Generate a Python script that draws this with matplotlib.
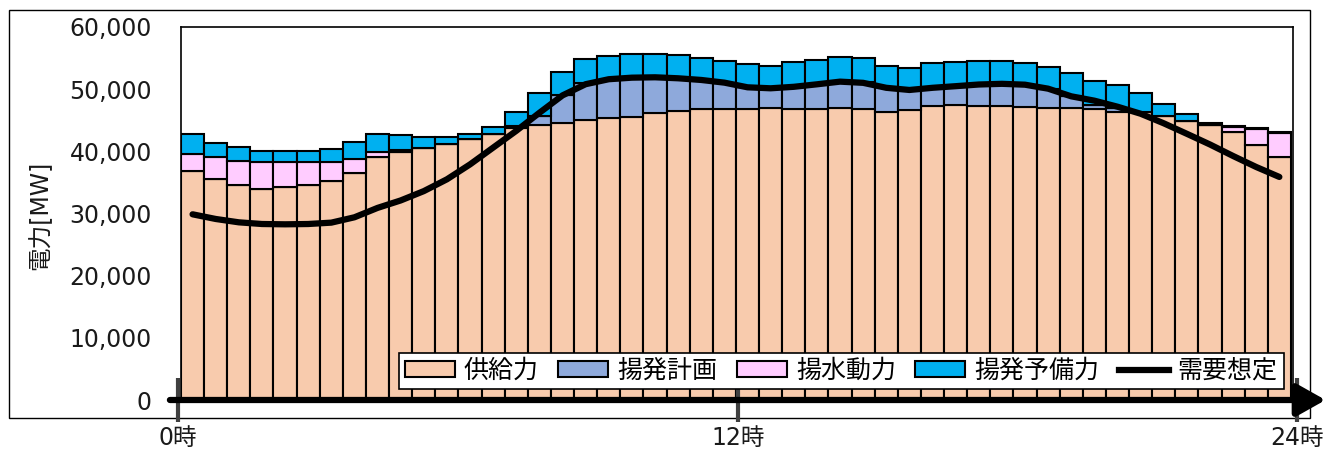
import numpy as np
import matplotlib
matplotlib.use("Agg")
import matplotlib.pyplot as plt
from matplotlib.patches import Patch, Rectangle
from matplotlib.lines import Line2D
from matplotlib.ticker import FuncFormatter

plt.rcParams['font.family'] = ['DejaVu Sans', 'Noto Sans CJK JP']

# Half-hourly values [MW], 48 slots from 0:00 to 24:00
supply = [36880, 35550, 34540, 33990, 34260, 34590, 35230, 36520,
          39140, 39940, 40480, 41130, 41980, 42740, 43700, 44240,
          44510, 45040, 45310, 45570, 46220, 46490, 46810, 46810,
          46810, 46920, 46810, 46810, 46920, 46810, 46380, 46650,
          47290, 47460, 47290, 47290, 47080, 47020, 47020, 46760,
          46380, 46270, 45680, 44930, 44250, 43160, 41020, 39140]
pumped_plan = [0, 0, 0, 0, 0, 0, 0, 0,
               0, 0, 0, 0, 0, 0, 300, 1500,
               4550, 5900, 6170, 6440, 5690, 5260, 4670, 4240,
               3490, 3220, 3590, 3970, 4290, 4290, 3920, 3220,
               2850, 2940, 3380, 3490, 3590, 3010, 1880, 700,
               600, 0, 0, 0, 0, 0, 0, 0]
pumping_power = [2740, 3590, 3950, 4250, 3980, 3650, 3100, 2250,
                 800, 300, 0, 0, 0, 0, 0, 0,
                 0, 0, 0, 0, 0, 0, 0, 0,
                 0, 0, 0, 0, 0, 0, 0, 0,
                 0, 0, 0, 0, 0, 0, 0, 0,
                 0, 0, 0, 0, 0, 750, 2570, 3800]
pumped_reserve = [3120, 2250, 2260, 1860, 1860, 1860, 2050, 2730,
                  2850, 2390, 1880, 1230, 760, 1120, 2380, 3590,
                  3650, 3860, 3910, 3690, 3750, 3750, 3590, 3540,
                  3750, 3590, 4020, 3910, 3910, 3860, 3430, 3590,
                  4020, 3970, 3920, 3810, 3600, 3590, 3650, 3850,
                  3690, 3060, 1880, 1020, 300, 170, 110, 120]
demand = [29870, 29120, 28580, 28310, 28260, 28310, 28530, 29390,
          30900, 32100, 33600, 35500, 37900, 40600, 43300, 46200,
          49000, 50800, 51600, 51850, 51910, 51750, 51480, 51050,
          50300, 50140, 50380, 50780, 51210, 51020, 50220, 49870,
          50220, 50480, 50750, 50860, 50720, 50080, 48850, 48150,
          47180, 46050, 44510, 42820, 41100, 39250, 37480, 35880]

series_labels = ["供給力", "揚発計画", "揚水動力", "揚発予備力"]
demand_label = "需要想定"
hour_labels = ["0時", "12時", "24時"]
hour_ticks = [-0.13, 24.09, 48.27]
y_label = "電力[MW]"
y_ticks = [0, 10000, 20000, 30000, 40000, 50000, 60000]

colors = ["#F8CBAD", "#8EA9DB", "#FFCCFF", "#00B0F0"]

W, H = 1326, 450
fig = plt.figure(figsize=(W / 100, H / 100), dpi=100)
ax = fig.add_axes([181 / W, 50 / H, 1112 / W, 373 / H])

# chart-area frame
fig.add_artist(Rectangle((9 / W, 32 / H), 1301 / W, 408 / H,
                         transform=fig.transFigure, fill=False,
                         edgecolor='black', linewidth=1.0, zorder=-1))

x = np.arange(len(supply))
base = np.zeros(len(supply))
for vals, color in zip([supply, pumped_plan, pumping_power, pumped_reserve], colors):
    vals = np.asarray(vals, dtype=float)
    ax.bar(x, vals, width=1.0, bottom=base, align='edge', color=color,
           edgecolor='black', linewidth=1.5, zorder=2)
    base += vals

ax.plot(x + 0.5, demand, color='black', linewidth=4.5,
        solid_capstyle='round', solid_joinstyle='round', zorder=3)

ax.set_xlim(0, 48.09)
ax.set_ylim(0, 60000)
ax.set_xticks([])
ax.set_yticks(y_ticks)
ax.yaxis.set_major_formatter(FuncFormatter(lambda v, p: f"{v:,.0f}"))
ax.tick_params(axis='y', length=0, pad=21, labelsize=17, labelcolor='#1a1a1a')

for side in ['left', 'top', 'right']:
    ax.spines[side].set_color('black')
    ax.spines[side].set_linewidth(1.2)
ax.spines['bottom'].set_visible(False)

# hour tick marks and labels
for xp, lab in zip(hour_ticks, hour_labels):
    ax.plot([xp, xp], [-3540, 3540], color='#404040', linewidth=3,
            solid_capstyle='butt', clip_on=False, zorder=4)
    ax.text(xp, -6150, lab, ha='center', va='center', fontsize=17,
            color='#1a1a1a', clip_on=False)

# horizontal time axis with arrow head
ax.annotate('', xy=(49.5, 0), xytext=(-0.48, 0), xycoords='data',
            arrowprops=dict(arrowstyle='-|>,head_length=0.8,head_width=0.45',
                            mutation_scale=22, linewidth=4.5, color='black',
                            shrinkA=0, shrinkB=0),
            annotation_clip=False, zorder=6)

fig.text(40 / W, 1 - 215 / H, y_label, rotation=90, ha='center', va='center',
         fontsize=17, color='#1a1a1a')

handles = [Patch(facecolor=c, edgecolor='black', linewidth=1.5) for c in colors]
handles.append(Line2D([], [], color='black', linewidth=4.5))
leg = ax.legend(handles, series_labels + [demand_label], loc='lower right',
                bbox_to_anchor=(0.992, 0.029), ncol=5, fontsize=18,
                frameon=True, fancybox=False, framealpha=1, edgecolor='black',
                handlelength=2.0, handleheight=0.56, handletextpad=0.36,
                columnspacing=0.78, borderpad=0.25, borderaxespad=0)
leg.get_frame().set_linewidth(1.2)
leg.set_zorder(7)

fig.savefig("out.png", dpi=100)
